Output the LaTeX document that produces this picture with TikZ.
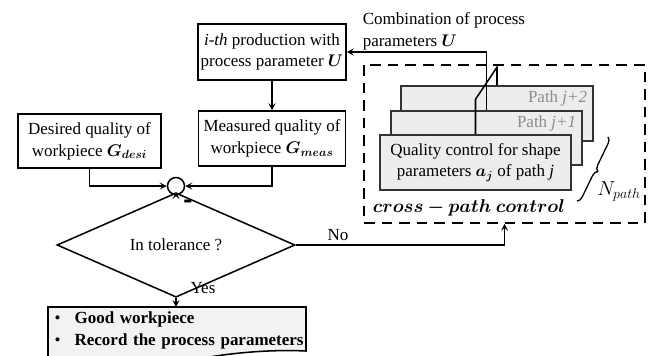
\documentclass[tikz,border=0pt]{standalone}
\usepackage{fontspec}
\setmainfont{Liberation Serif}
\usepackage{bm}
\usetikzlibrary{arrows.meta,shapes.geometric,decorations.pathreplacing}

\begin{document}
\begin{tikzpicture}[x=0.03cm, y=-0.03cm, line width=1.3pt,
		every node/.style={font=\fontsize{14.5}{18.6}\selectfont},
		box/.style={draw, rectangle, inner sep=1pt, align=center},
		card/.style={draw=black!80, fill=black!7, rectangle, inner sep=1pt, align=center},
		pathlabel/.style={text=black!45, anchor=north east, inner sep=1pt},
		arr/.style={-{Stealth[length=6pt,width=6pt,inset=2.5pt]}}]
	%%%%% START %%%%%
	\useasboundingbox (0,0) rectangle (651,355);
	\clip (0,0) rectangle (651,355);
	
	\node[box, minimum width=4.44cm, minimum height=1.68cm] (ith) at (272, 52) {\textit{i-th} production with\\process parameter $\bm{U}$};
	\node[box, minimum width=4.41cm, minimum height=1.65cm] (meas) at (272, 138.5) {Measured quality of\\workpiece $\bm{G}_{\bm{meas}}$};
	\node[box, minimum width=4.29cm, minimum height=1.62cm] (desi) at (89.5, 141) {Desired quality of\\workpiece $\bm{G}_{\bm{desi}}$};
	\node[draw, circle, minimum size=0.51cm, inner sep=0pt] (sum) at (176, 186) {};
	\node[draw, diamond, minimum width=7.14cm, minimum height=1.62cm, inner sep=0pt] (tol) at (176, 245) {In tolerance ?};
	
	% output box, cut off by the lower edge
	\draw[fill=black!5] (48, 362) -- (48, 307) -- (306, 307) -- (306, 351) .. controls (265, 349) and (215, 354) .. (175, 364);
	\node[anchor=north west, text width=7.6cm, inner xsep=5pt, inner ysep=3pt, align=left, font=\fontsize{14.5}{19.5}\selectfont] (good) at (48, 307)
		{\textbullet\hspace{12pt}\textbf{Good workpiece}\\\textbullet\hspace{12pt}\textbf{Record the process parameters}};
	
	% cross-path control
	\draw[dash pattern=on 9pt off 6pt, line width=1.6pt] (364, 65) rectangle (645, 223);
	\node[minimum width=8.43cm, minimum height=4.74cm] (cross) at (504.5, 144) {};
	\node[card, minimum width=5.76cm, minimum height=1.65cm] (back) at (497, 113.5) {};
	\node[pathlabel] (lblb) at ([xshift=-4pt, yshift=-3pt]back.north east) {Path \textit{j+2}};
	\node[card, minimum width=5.73cm, minimum height=1.62cm] (mid) at (486.5, 138) {};
	\node[pathlabel] (lblm) at ([xshift=-4pt, yshift=-3pt]mid.north east) {Path \textit{j+1}};
	\node[card, minimum width=5.73cm, minimum height=1.65cm] (front) at (475.5, 162.5) {Quality control for shape\\parameters $\bm{a}_{\bm{j}}$ of path \textit{j}};
	\node[font=\fontsize{14.4}{18}\selectfont] (ctrl) at (469, 208) {\scalebox{1.1}{$\bm{cross-path\ control}$}};
	\draw[decorate, decoration={brace, amplitude=5pt}, line width=1.1pt] (608, 137) -- (577, 201);
	\node[font=\fontsize{17}{20}\selectfont] (npath) at (619, 191) {$N_{path}$};
	\node[anchor=west, align=left, inner sep=0pt] (comb) at (362, 31) {Combination of process\\parameters $\bm{U}$};
	
	\draw (front.north) -- ++(0, -35) -- ([yshift=18*0.03cm]back.north) -- (back.north);
	\draw[arr] (mid.north) |- (ith.east);
	
	\draw[arr] (ith) -- (meas);
	\draw[arr] (desi.south) |- (sum.west);
	\draw[arr] (meas.south) |- (sum.east);
	\draw[arr] (sum) -- (tol.north);
	\node[inner sep=0pt] (minus) at (188, 205) {\scalebox{1.6}[2]{\textbf{-}}};
	\draw[arr] (tol.south) -- (tol.south |- good.north);
	\node (yes) at (203, 288) {Yes};
	\draw[arr] (tol.east) -| (cross.south);
	\node (no) at (338, 235) {No};
	
	%%%%% END %%%%%
\end{tikzpicture}
\end{document}
